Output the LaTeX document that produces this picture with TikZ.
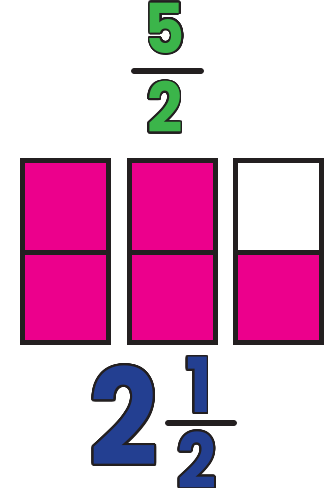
\documentclass[tikz,border=0pt]{standalone}
\usepackage{fontspec}
\newfontfamily\digitfont{Poppins}[FakeStretch=0.9]
\usepackage{contour}
\contournumber{32}
\usetikzlibrary{positioning}

\definecolor{barpink}{HTML}{EC008C}
\definecolor{numgreen}{HTML}{3BB54A}
\definecolor{numblue}{HTML}{233F91}
\definecolor{inkdark}{HTML}{231F20}

\begin{document}
\begin{tikzpicture}[x=0.025cm, y=-0.025cm,
  every node/.style={inner sep=0pt, outer sep=0pt},
  topnum/.style={font=\digitfont\bfseries\fontsize{49}{49}\selectfont},
  wholenum/.style={font=\digitfont\bfseries\fontsize{95}{95}\selectfont},
  smallnum/.style={font=\digitfont\bfseries\fontsize{54}{54}\selectfont},
  cell/.style={draw=inkdark, line width=5*0.025cm}
]
\useasboundingbox (0,0) rectangle (332,488);

% --- Improper fraction on top ---
\contourlength{1.2pt}
\node[topnum] (topnum) at (165,29) {\contour{inkdark}{\textcolor{numgreen}{5}}};
\node[topnum] (topden) at (165,108) {\contour{inkdark}{\textcolor{numgreen}{2}}};
\draw[line width=6*0.025cm, draw=inkdark, line cap=round] (134,71) -- (201,71);

% --- Three bars, each cut in halves ---
\foreach \xl/\topfill in {20/barpink, 127/barpink, 233/white} {
  \fill[\topfill] (\xl,158) rectangle ++(91,94);
  \fill[barpink] (\xl,252) rectangle ++(91,93);
  \draw[cell] (\xl+2.5,160.5) rectangle (\xl+88.5,342.5);
  \draw[cell] (\xl+2.5,252) -- (\xl+88.5,252);
}

% --- Mixed number at the bottom ---
\contourlength{1.6pt}
\node[wholenum] (whole) at (124,417) {\contour{inkdark}{\textcolor{numblue}{2}}};
\contourlength{1.2pt}
\node[smallnum] (botnum) at (199,386) {\contour{inkdark}{\textcolor{numblue}{1}}};
\node[smallnum] (botden) at (197,461) {\contour{inkdark}{\textcolor{numblue}{2}}};
\draw[line width=6*0.025cm, draw=inkdark, line cap=round] (168,423) -- (234,423);

\end{tikzpicture}
\end{document}
